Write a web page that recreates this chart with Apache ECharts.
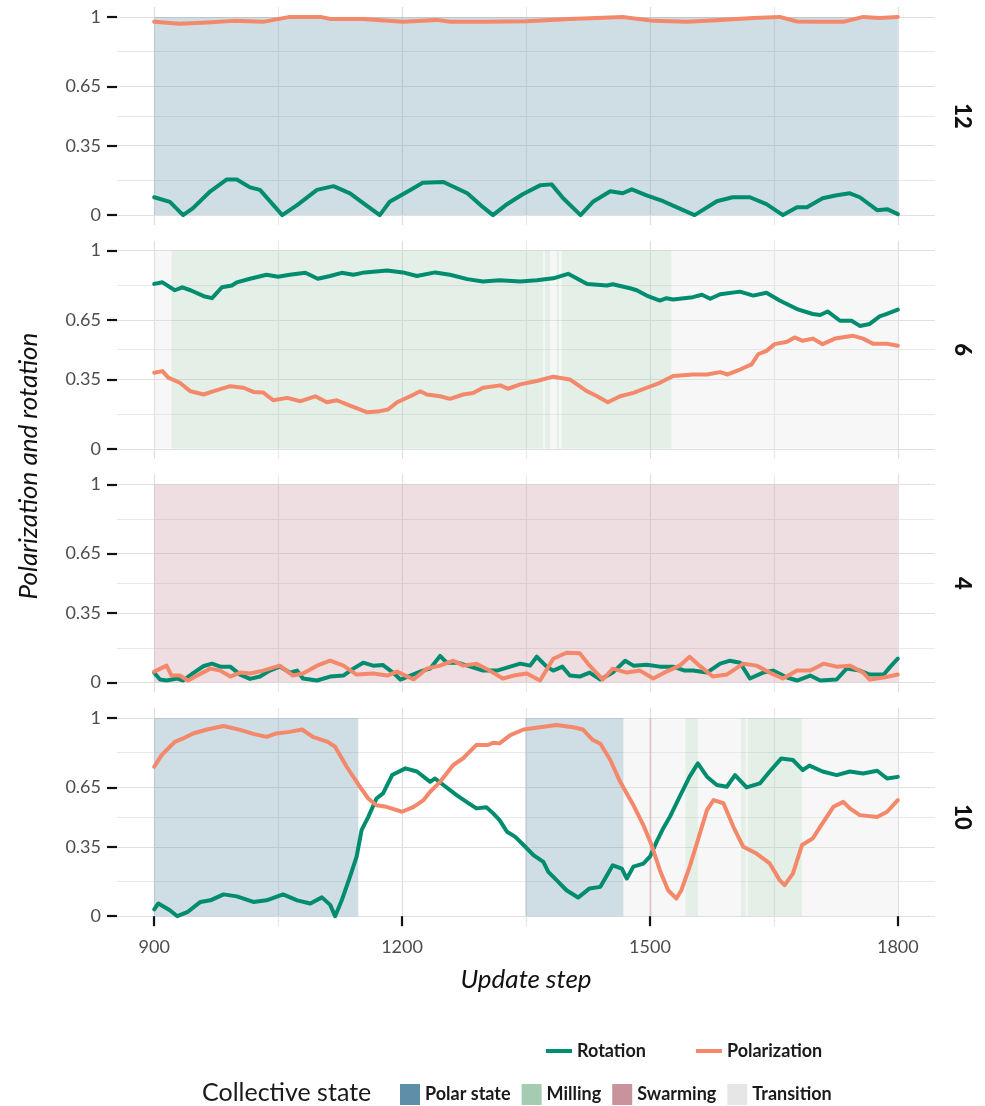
<!DOCTYPE html>
<html><head><meta charset="utf-8">
<script src="https://cdn.jsdelivr.net/npm/echarts@6/dist/echarts.min.js"></script>
<style>html,body{margin:0;padding:0;background:#fff}#c{width:985px;height:1106px}</style>
</head><body><div id="c"></div>
<script>
// ---------- tick labels / categories ----------
const panelLabels = ['12', '6', '4', '10'];
const xTicks = [900, 1200, 1500, 1800];
const xTickLabels = ['900', '1200', '1500', '1800'];
const xMinor = [1050, 1350, 1650];
const yTicks = [0, 0.35, 0.65, 1];
const yTickLabels = ['0', '0.35', '0.65', '1'];
const yMinor = [0.175, 0.5, 0.825];
const stateNames = ['Polar state', 'Milling', 'Swarming', 'Transition'];
const lineNames = ['Rotation', 'Polarization'];

// ---------- panel "12" ----------
const rot12X = [900,919,935,947,968,988,1000,1016,1028,1055,1073,1097,1117,1137,1153,1173,1185,1210,1225,1250,1279,1298,1310,1327,1346,1367,1381,1395,1416,1431,1452,1467,1478,1496,1516,1532,1554,1581,1600,1621,1641,1661,1678,1690,1709,1726,1742,1754,1775,1787,1800];
const rot12Y = [0.09,0.067,0.0,0.035,0.12,0.18,0.18,0.14,0.127,0.0,0.05,0.127,0.146,0.11,0.06,0.0,0.067,0.127,0.163,0.167,0.11,0.04,0.0,0.055,0.105,0.15,0.155,0.085,0.0,0.067,0.12,0.11,0.13,0.1,0.07,0.04,0.0,0.07,0.09,0.09,0.055,0.0,0.04,0.04,0.085,0.1,0.11,0.09,0.025,0.03,0.005];
const pol12X = [900,931,964,996,1032,1064,1101,1113,1153,1201,1242,1258,1300,1351,1403,1467,1504,1545,1585,1625,1657,1678,1706,1734,1758,1778,1800];
const pol12Y = [0.976,0.965,0.972,0.98,0.975,1.0,1.0,0.99,0.99,0.976,0.985,0.976,0.976,0.978,0.99,1.0,0.98,0.975,0.985,0.995,1.0,0.977,0.975,0.975,1.0,0.995,1.0];
const states12 = [[900, 1800, 'Polar state']];

// ---------- panel "6" ----------
const rot6X = [900,910,925,934,944,960,970,982,994,1000,1016,1036,1050,1064,1083,1098,1113,1127,1141,1155,1182,1201,1218,1240,1258,1279,1298,1318,1343,1363,1383,1401,1424,1448,1455,1476,1484,1496,1512,1520,1528,1552,1563,1573,1585,1609,1625,1641,1657,1678,1697,1706,1715,1730,1744,1754,1766,1778,1786,1800];
const rot6Y = [0.832,0.84,0.80,0.815,0.80,0.77,0.76,0.815,0.824,0.84,0.858,0.878,0.868,0.878,0.888,0.858,0.872,0.888,0.878,0.89,0.9,0.89,0.872,0.89,0.878,0.856,0.844,0.85,0.844,0.85,0.86,0.883,0.832,0.824,0.83,0.81,0.80,0.773,0.748,0.76,0.753,0.765,0.777,0.757,0.78,0.793,0.773,0.787,0.748,0.705,0.68,0.675,0.693,0.646,0.646,0.62,0.63,0.668,0.68,0.702];
const pol6X = [900,910,917,931,944,960,971,992,1008,1020,1032,1044,1061,1077,1095,1109,1121,1137,1158,1173,1183,1194,1210,1222,1230,1246,1258,1274,1286,1298,1319,1328,1343,1363,1383,1403,1424,1436,1449,1464,1480,1496,1512,1528,1552,1569,1585,1594,1609,1623,1631,1641,1651,1666,1675,1685,1697,1709,1724,1746,1758,1770,1787,1800];
const pol6Y = [0.384,0.392,0.359,0.333,0.29,0.274,0.29,0.316,0.308,0.287,0.284,0.245,0.257,0.24,0.265,0.235,0.245,0.218,0.184,0.19,0.198,0.235,0.265,0.29,0.274,0.265,0.252,0.274,0.282,0.308,0.32,0.303,0.325,0.342,0.364,0.35,0.29,0.265,0.235,0.265,0.282,0.308,0.333,0.367,0.375,0.375,0.387,0.375,0.40,0.426,0.477,0.494,0.528,0.54,0.562,0.545,0.556,0.528,0.556,0.57,0.556,0.53,0.53,0.52];
const states6 = [[900,921,'Transition'],[921,1371,'Milling'],[1371,1373,'Transition'],[1373,1379,'Milling'],[1379,1387,'Transition'],[1387,1390,'Milling'],[1390,1393,'Transition'],[1393,1526,'Milling'],[1526,1800,'Transition']];

// ---------- panel "4" ----------
const rot4X = [900,907,915,928,935,948,960,970,980,992,1004,1016,1028,1040,1052,1064,1073,1080,1097,1113,1129,1141,1153,1165,1177,1189,1198,1210,1225,1234,1246,1254,1267,1279,1298,1315,1331,1343,1355,1363,1375,1383,1394,1403,1415,1427,1440,1455,1470,1480,1496,1512,1528,1542,1552,1569,1585,1597,1609,1621,1637,1649,1666,1678,1694,1706,1726,1738,1754,1766,1783,1791,1800];
const rot4Y = [0.049,0.015,0.01,0.02,0.01,0.05,0.083,0.095,0.08,0.08,0.04,0.018,0.03,0.06,0.08,0.05,0.06,0.02,0.01,0.03,0.035,0.07,0.1,0.085,0.088,0.05,0.015,0.035,0.06,0.07,0.134,0.1,0.1,0.085,0.06,0.06,0.08,0.095,0.085,0.13,0.08,0.06,0.08,0.035,0.03,0.05,0.015,0.05,0.11,0.085,0.09,0.08,0.08,0.06,0.06,0.05,0.095,0.11,0.1,0.02,0.05,0.06,0.025,0.01,0.035,0.01,0.015,0.07,0.06,0.04,0.04,0.08,0.12];
const pol4X = [900,915,921,931,941,952,968,980,992,1004,1016,1032,1052,1068,1080,1097,1113,1129,1145,1165,1182,1194,1214,1230,1246,1262,1274,1290,1306,1322,1335,1351,1367,1383,1399,1415,1427,1443,1455,1472,1488,1504,1520,1536,1548,1560,1576,1593,1613,1629,1645,1661,1678,1694,1710,1726,1742,1758,1766,1783,1800];
const pol4Y = [0.055,0.085,0.035,0.035,0.01,0.035,0.07,0.06,0.03,0.05,0.045,0.06,0.085,0.035,0.045,0.085,0.11,0.085,0.04,0.045,0.035,0.055,0.015,0.07,0.085,0.11,0.085,0.095,0.06,0.02,0.035,0.045,0.01,0.12,0.15,0.147,0.085,0.015,0.07,0.05,0.06,0.02,0.055,0.085,0.13,0.085,0.03,0.04,0.095,0.085,0.05,0.02,0.06,0.06,0.095,0.08,0.085,0.05,0.015,0.025,0.04];
const states4 = [[900, 1800, 'Swarming']];

// ---------- panel "10" ----------
const rot10X = [900,905,919,928,940,956,968,984,1000,1020,1036,1056,1073,1089,1103,1113,1119,1127,1137,1145,1151,1159,1169,1177,1188,1204,1218,1234,1240,1250,1266,1278,1290,1302,1310,1318,1327,1337,1347,1359,1371,1377,1387,1399,1413,1427,1440,1455,1466,1472,1480,1492,1500,1508,1516,1524,1536,1548,1558,1569,1581,1593,1603,1617,1633,1645,1659,1673,1685,1693,1709,1726,1742,1758,1775,1787,1800];
const rot10Y = [0.034,0.064,0.03,0.0,0.02,0.072,0.08,0.11,0.1,0.072,0.08,0.11,0.08,0.064,0.095,0.057,0.0,0.08,0.2,0.3,0.434,0.5,0.594,0.62,0.712,0.746,0.73,0.678,0.695,0.662,0.611,0.577,0.544,0.55,0.52,0.485,0.426,0.4,0.359,0.308,0.274,0.224,0.182,0.131,0.094,0.14,0.148,0.257,0.24,0.19,0.25,0.265,0.3,0.375,0.443,0.5,0.603,0.704,0.771,0.704,0.662,0.653,0.712,0.65,0.67,0.73,0.796,0.788,0.737,0.76,0.73,0.712,0.73,0.72,0.734,0.695,0.703];
const pol10X = [900,909,919,925,935,947,964,984,1004,1020,1036,1048,1064,1079,1092,1110,1119,1133,1149,1159,1169,1181,1200,1214,1226,1234,1246,1262,1274,1290,1304,1310,1318,1331,1347,1367,1387,1407,1419,1431,1440,1452,1464,1480,1492,1502,1512,1522,1532,1538,1548,1558,1569,1577,1589,1601,1613,1629,1645,1657,1663,1673,1684,1697,1706,1722,1734,1742,1754,1775,1787,1800];
const pol10Y = [0.754,0.813,0.855,0.88,0.897,0.922,0.942,0.96,0.94,0.92,0.905,0.922,0.93,0.942,0.905,0.88,0.855,0.754,0.653,0.594,0.56,0.552,0.527,0.552,0.586,0.628,0.678,0.763,0.797,0.864,0.864,0.875,0.872,0.914,0.942,0.953,0.965,0.953,0.942,0.889,0.87,0.788,0.678,0.56,0.46,0.359,0.232,0.131,0.089,0.131,0.249,0.384,0.535,0.586,0.57,0.451,0.35,0.316,0.266,0.182,0.157,0.215,0.359,0.392,0.451,0.552,0.577,0.544,0.51,0.5,0.527,0.586];
const states10 = [[900,1147,'Polar state'],[1349,1468,'Polar state'],[1468,1499,'Transition'],[1499,1502,'Swarming'],[1502,1543,'Transition'],[1543,1558,'Milling'],[1558,1610,'Transition'],[1610,1616,'Milling'],[1616,1618,'Transition'],[1618,1684,'Milling'],[1684,1800,'Transition']];

// ---------- styling ----------
const FONT = 'Lato';
const lineColors = { 'Rotation': '#008c6e', 'Polarization': '#f4886a' };
const stateRGB = { 'Polar state': [95,143,168], 'Milling': [165,203,176], 'Swarming': [200,147,155], 'Transition': [230,230,228] };
const MAJOR = '#e0e0e0', MINOR = '#e9e9e9';

const panels = [
  { label: panelLabels[0], rot: [rot12X, rot12Y], pol: [pol12X, pol12Y], states: states12 },
  { label: panelLabels[1], rot: [rot6X, rot6Y], pol: [pol6X, pol6Y], states: states6 },
  { label: panelLabels[2], rot: [rot4X, rot4Y], pol: [pol4X, pol4Y], states: states4 },
  { label: panelLabels[3], rot: [rot10X, rot10Y], pol: [pol10X, pol10Y], states: states10 }
];

function zip(xs, ys) { return xs.map((x, i) => [x, ys[i]]); }
function lab(ticks, labels) { return v => { const i = ticks.findIndex(t => Math.abs(t - v) < 1e-9); return i >= 0 ? labels[i] : ''; }; }

const legendText = { fontFamily: FONT, fontSize: 18, fontWeight: 'bold', color: '#1a1a1a' };
const option = {
  animation: false,
  backgroundColor: '#ffffff',
  textStyle: { fontFamily: FONT },
  grid: [], xAxis: [], yAxis: [], series: [],
  legend: [
    { data: lineNames, left: 541, top: 1037, icon: 'rect', itemWidth: 26, itemHeight: 4, itemGap: 50,
      selectedMode: false, textStyle: legendText },
    { data: stateNames, left: 395, top: 1079, icon: 'rect', itemWidth: 20, itemHeight: 21, itemGap: 11,
      selectedMode: false, textStyle: legendText }
  ],
  graphic: []
};

const PANEL_TOP = 7, PANEL_STEP = 233.7, PANEL_H = 218;
panels.forEach((pn, p) => {
  const top = PANEL_TOP + p * PANEL_STEP;
  const last = p === panels.length - 1;
  option.grid.push({ left: 117, width: 818, top: top, height: PANEL_H });
  option.xAxis.push({
    gridIndex: p, type: 'value', min: 855, max: 1845, position: 'bottom',
    axisLine: { show: false },
    axisTick: { show: last, customValues: xTicks, length: 10, lineStyle: { color: '#111', width: 2.2 } },
    axisLabel: { show: last, customValues: xTicks, formatter: lab(xTicks, xTickLabels), color: '#4d4d4d', fontSize: 18, margin: 12, fontFamily: FONT },
    splitLine: { show: true, lineStyle: { color: MAJOR, width: 1.2 } }
  });
  option.xAxis.push({
    gridIndex: p, type: 'value', min: 855, max: 1845, position: 'top',
    axisLine: { show: false },
    axisTick: { show: false, customValues: xMinor },
    axisLabel: { show: false, customValues: xMinor },
    splitLine: { show: true, lineStyle: { color: MINOR, width: 1.2 } }
  });
  option.yAxis.push({
    gridIndex: p, type: 'value', min: -0.05, max: 1.05, position: 'left',
    axisLine: { show: false },
    axisTick: { show: true, customValues: yTicks, length: 10, lineStyle: { color: '#111', width: 2.2 } },
    axisLabel: { show: true, customValues: yTicks, formatter: lab(yTicks, yTickLabels), color: '#4d4d4d', fontSize: 18, margin: 16, fontFamily: FONT },
    splitLine: { show: true, lineStyle: { color: MAJOR, width: 1.2 } }
  });
  // minor y gridlines; its name carries the facet strip label on the right
  option.yAxis.push({
    gridIndex: p, type: 'value', min: -0.05, max: 1.05, position: 'right',
    name: pn.label, nameLocation: 'middle', nameRotate: -90, nameGap: 16,
    nameTextStyle: { fontFamily: FONT, fontSize: 22, fontWeight: 900, color: '#111' },
    axisLine: { show: false },
    axisTick: { show: false, customValues: yMinor },
    axisLabel: { show: false, customValues: yMinor },
    splitLine: { show: true, lineStyle: { color: MINOR, width: 1.2 } }
  });

  // background state shading (one series per state name in this panel)
  stateNames.forEach(s => {
    const iv = pn.states.filter(d => d[2] === s);
    if (!iv.length) return;
    const c = stateRGB[s];
    option.series.push({
      name: s, type: 'bar', xAxisIndex: 2 * p, yAxisIndex: 2 * p, data: [], z: 1,
      itemStyle: { color: 'rgb(' + c.join(',') + ')' },
      markArea: {
        silent: true,
        itemStyle: { color: 'rgba(' + c.join(',') + ',0.3)' },
        data: iv.map(d => [{ xAxis: d[0], yAxis: 0 }, { xAxis: d[1], yAxis: 1 }])
      }
    });
  });

  [['Rotation', pn.rot], ['Polarization', pn.pol]].forEach(([nm, xy], k) => {
    option.series.push({
      name: nm, type: 'line', xAxisIndex: 2 * p, yAxisIndex: 2 * p,
      data: zip(xy[0], xy[1]), showSymbol: false, symbol: 'none', z: 3 + k,
      color: lineColors[nm],
      lineStyle: { color: lineColors[nm], width: 4, join: 'round', cap: 'round' },
      itemStyle: { color: lineColors[nm] }
    });
  });
});

option.graphic.push(
  { type: 'text', x: 29, y: 466, rotation: Math.PI / 2,
    style: { text: 'Polarization and rotation', fontSize: 26, fontStyle: 'italic', fontFamily: FONT, fill: '#111', align: 'center', verticalAlign: 'middle', textAlign: 'center', textVerticalAlign: 'middle' } },
  { type: 'text', x: 526, y: 980,
    style: { text: 'Update step', fontSize: 26, fontStyle: 'italic', fontFamily: FONT, fill: '#111', align: 'center', verticalAlign: 'middle', textAlign: 'center', textVerticalAlign: 'middle' } },
  { type: 'text', x: 202, y: 1093,
    style: { text: 'Collective state', fontSize: 25, fontFamily: FONT, fill: '#1a1a1a', align: 'left', verticalAlign: 'middle', textAlign: 'left', textVerticalAlign: 'middle' } }
);

const chart = echarts.init(document.getElementById('c'), null, { renderer: 'canvas' });
chart.setOption(option);
</script>
</body></html>
